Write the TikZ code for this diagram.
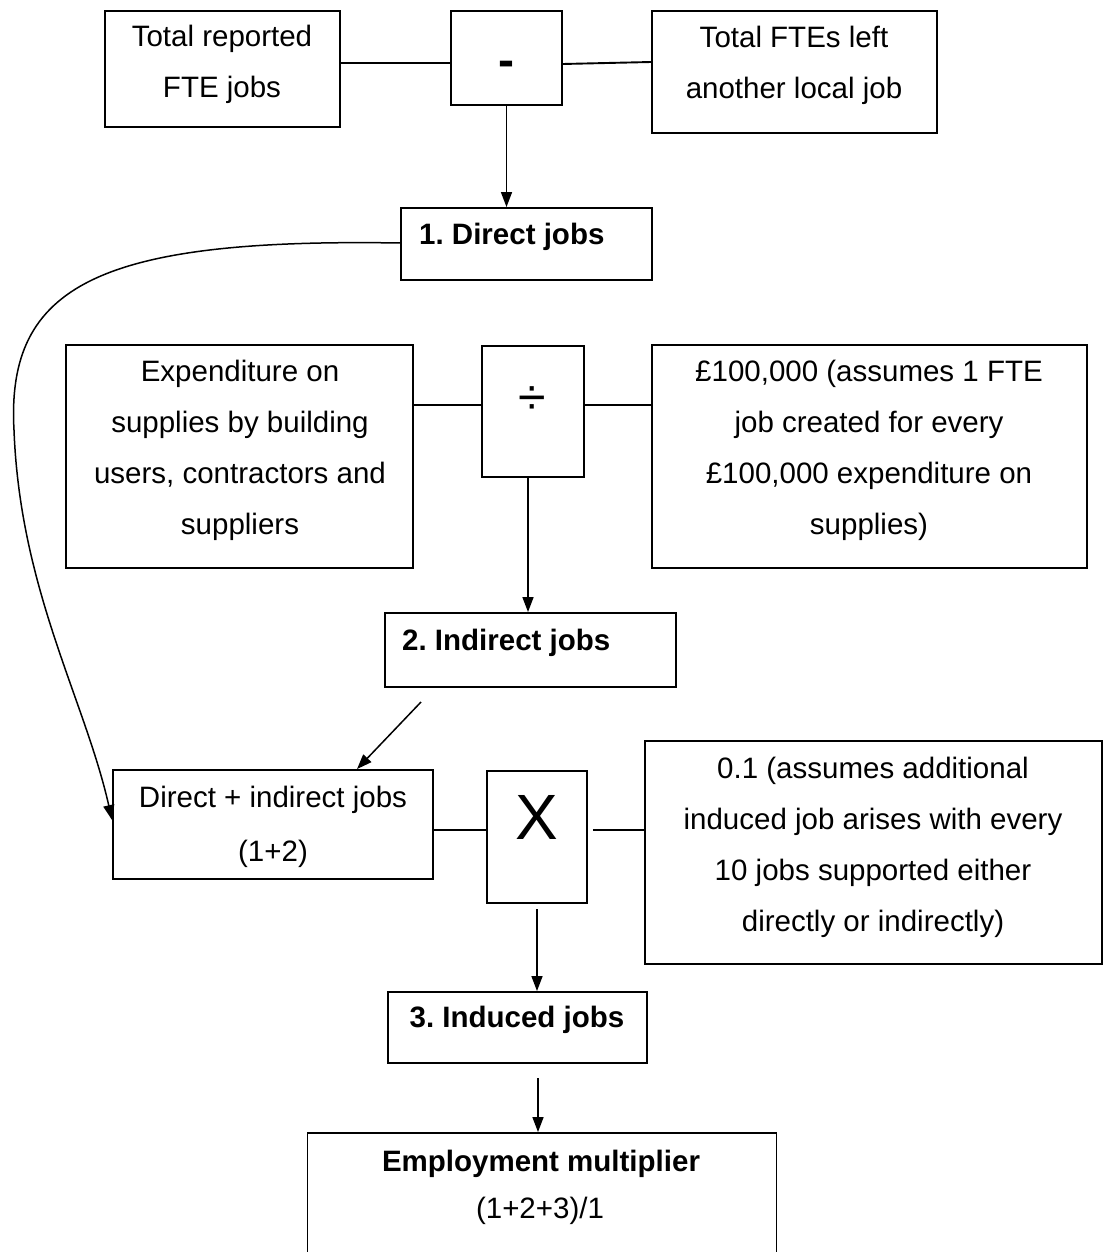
\documentclass[tikz,border=0pt]{standalone}
\usepackage{fontspec}
\setmainfont{Liberation Sans}
\usetikzlibrary{arrows.meta,calc}
\frenchspacing
\begin{document}
\begin{tikzpicture}[x=1pt,y=-1pt,
  box/.style={draw, line width=1.9pt, rectangle, inner sep=0pt},
  txt/.style={align=center, inner sep=0pt, font=\fontsize{29.5}{51}\selectfont},
  btxt/.style={align=center, inner sep=0pt, font=\fontsize{29.5}{51}\selectfont\bfseries},
  conn/.style={line width=1.9pt},
  arr/.style={line width=1.5pt, -{Triangle[length=15pt,width=11pt]}}]
\fill[white] (0,0) rectangle (1103,1252);
\useasboundingbox (0,0) rectangle (1103,1252);

% top row
\node[box, minimum width=235pt, minimum height=116pt] (A) at (222.5,69) {};
\node[txt] (Atxt) at (222,64) {Total reported\\FTE jobs};
\node[box, minimum width=111pt, minimum height=94pt] (minus) at (506.5,58) {};
\node[txt, font=\fontsize{48}{50}\selectfont\bfseries] (minustxt) at (506,69) {-};
\node[box, minimum width=285pt, minimum height=122pt] (C) at (794.5,72) {};
\node[txt] (Ctxt) at (794,65) {Total FTEs left\\another local job};

\node[box, minimum width=251pt, minimum height=72pt] (direct) at (526.5,244) {};
\node[btxt, anchor=west] (directtxt) at (419,237) {1. Direct jobs};

% second row
\node[box, minimum width=347pt, minimum height=223pt] (exp) at (239.5,456.5) {};
\node[txt] (exptxt) at (240,450) {Expenditure on\\supplies by building\\users, contractors and\\suppliers};
\node[box, minimum width=102pt, minimum height=131pt] (div) at (533,411.5) {};
\node[txt, font=\fontsize{50}{50}\selectfont] (divtxt) at (532,401) {÷};
\node[box, minimum width=435pt, minimum height=223pt] (pound) at (869.5,456.5) {};
\node[txt] (poundtxt) at (869,450) {£100,000 (assumes 1 FTE\\job created for every\\£100,000 expenditure on\\supplies)};

\node[box, minimum width=291pt, minimum height=74pt] (indirect) at (530.5,650) {};
\node[btxt, anchor=west] (indirecttxt) at (402,643) {2. Indirect jobs};

% third row
\node[box, minimum width=320pt, minimum height=109pt] (di) at (273,824.5) {};
\node[txt, font=\fontsize{29.5}{54}\selectfont] (ditxt) at (273,827) {Direct + indirect jobs\\(1+2)};
\node[box, minimum width=100pt, minimum height=132pt] (times) at (537,837) {};
\node[txt, font=\fontsize{64}{64}\selectfont] (timestxt) at (537,817) {X};
\node[box, minimum width=457pt, minimum height=223pt] (point) at (873.5,852.5) {};
\node[txt] (pointtxt) at (873,847) {0.1 (assumes additional\\induced job arises with every\\10 jobs supported either\\directly or indirectly)};

\node[box, minimum width=259pt, minimum height=71pt] (induced) at (517.5,1027.5) {};
\node[btxt] (inducedtxt) at (517,1020) {3. Induced jobs};

\node[box, minimum width=469pt, minimum height=150pt] (employ) at (542,1208) {};
\node[btxt] (employtxt) at (541,1164) {Employment multiplier};
\node[txt] (formulatxt) at (540,1211) {(1+2+3)/1};

% connectors
\draw[conn] (A.east |- 0,63) -- (minus.west |- 0,63);
\draw[conn] (minus.east |- 0,64) -- (C.west |- 0,62);
\draw[arr] (minus.south) -- (minus.south |- direct.north);

\draw[arr] (direct.west |- 0,243) .. controls (100,238) and (6,285) .. (14,430)
  .. controls (20,590) and (85,700) .. (di.west |- 0,820);

\draw[conn] (exp.east |- 0,405) -- (div.west |- 0,405);
\draw[conn] (div.east |- 0,405) -- (pound.west |- 0,405);
\draw[arr] ([xshift=-5pt]div.south) -- ([xshift=-5pt]div.south |- indirect.north);

\coordinate (dstart) at (421,702);
\draw[arr] (dstart) -- (di.north -| 357,0);

\draw[conn] (di.east |- 0,830) -- (times.west |- 0,830);
\draw[conn] ([xshift=5pt]times.east |- 0,830) -- (point.west |- 0,830);
\coordinate (xstart) at (537,909);
\draw[arr] (xstart) -- (xstart |- induced.north);
\coordinate (istart) at (538,1078);
\draw[arr] (istart) -- (istart |- employ.north);
\end{tikzpicture}
\end{document}
